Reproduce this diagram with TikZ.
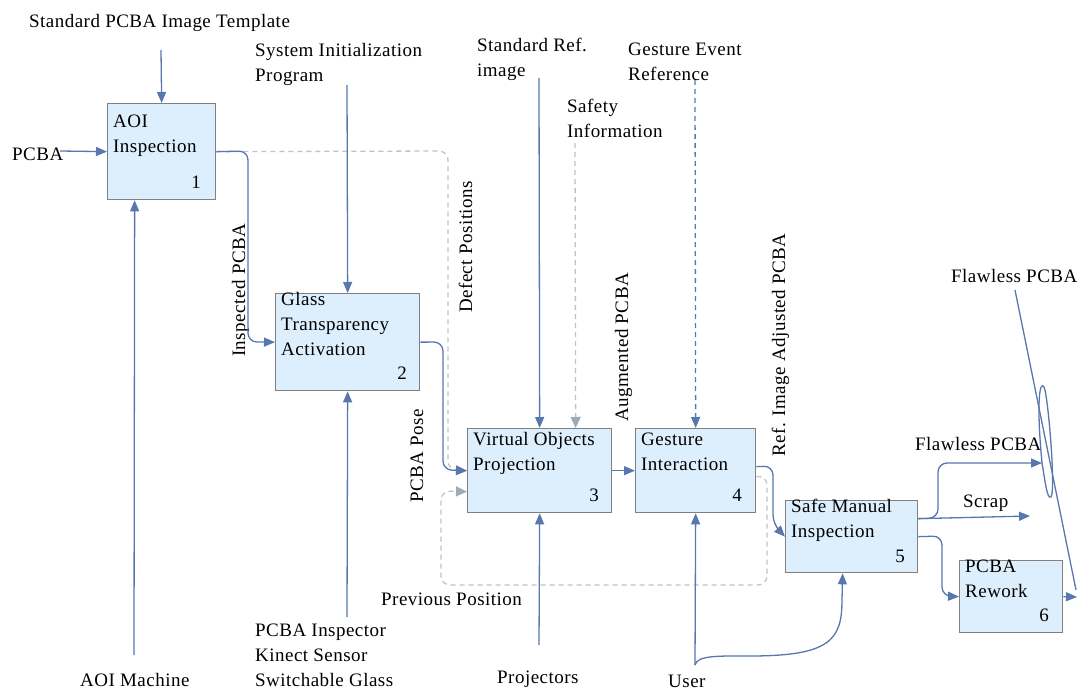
\documentclass[tikz,border=0pt]{standalone}
\usepackage{fontspec}
\setmainfont{Liberation Serif}[LetterSpace=2.5]
\usetikzlibrary{arrows.meta,calc}
\definecolor{flowblue}{HTML}{5877AD}
\definecolor{boxgray}{HTML}{808080}
\definecolor{boxfill}{HTML}{DDEEFD}
\definecolor{dashgray}{HTML}{BCC3CA}
\definecolor{dashtip}{HTML}{9FAAB4}
\newcommand\lblfont{\fontsize{19}{25}\selectfont}
\tikzset{
  box/.style={draw=boxgray, fill=boxfill, line width=1.3pt, inner sep=0pt, anchor=north west},
  txt/.style={font=\lblfont, inner sep=0pt, align=left, anchor=base west},
  num/.style={font=\lblfont, inner sep=0pt, anchor=base east},
  rot/.style={font=\lblfont, inner sep=0pt, rotate=90, anchor=base west},
  tip/.style={-{Triangle[length=11pt,width=9pt]}},
  flow/.style={draw=flowblue, line width=1.3pt, tip, rounded corners=9pt},
  dflow/.style={draw=dashgray, line width=1.3pt, dash pattern=on 5pt off 4pt, -{Triangle[length=11pt,width=10pt,color=dashtip]}, rounded corners=9pt},
  bdflow/.style={draw=flowblue, line width=1.3pt, dash pattern=on 5pt off 4pt, tip},
  plain/.style={draw=flowblue, line width=1.3pt}
}
\begin{document}
\begin{tikzpicture}[x=1pt,y=-1pt]
\useasboundingbox (0,0) rectangle (1078,690);
% boxes
\node[box, minimum width=108pt, minimum height=96pt] (b1) at (107,103) {};
\node[box, minimum width=144pt, minimum height=97pt] (b2) at (275,293) {};
\node[box, minimum width=144pt, minimum height=84pt] (b3) at (467,428) {};
\node[box, minimum width=120pt, minimum height=84pt] (b4) at (635,428) {};
\node[box, minimum width=132pt, minimum height=72pt] (b5) at (785,500) {};
\node[box, minimum width=103pt, minimum height=72pt] (b6) at (959,560) {};
% box texts (anchor = baseline of last line)
\node[txt] (b1t) at (113,153) {AOI\\Inspection};
\node[num] (b1n) at (201,188) {1};
\node[txt] (b2t) at (281,355) {Glass\\Transparency\\Activation};
\node[num] (b2n) at (407,379) {2};
\node[txt] (b3t) at (473,470) {Virtual Objects\\Projection};
\node[num] (b3n) at (599,501) {3};
\node[txt] (b4t) at (641,470) {Gesture\\Interaction};
\node[num] (b4n) at (742,501) {4};
\node[txt] (b5t) at (791,537) {Safe Manual\\Inspection};
\node[num] (b5n) at (905,562) {5};
\node[txt] (b6t) at (965,597) {PCBA\\Rework};
\node[num] (b6n) at (1049,621) {6};
% outer texts
\node[txt] (tpl) at (29,28) {Standard PCBA Image Template};
\node[txt] (sip) at (255,82) {System Initialization\\Program};
\node[txt] (pcba) at (12,160) {PCBA};
\node[txt] (sri) at (477,77) {Standard Ref.\\image};
\node[txt] (saf) at (567,138) {Safety\\Information};
\node[txt] (ger) at (628,81) {Gesture Event\\Reference};
\node[txt] (aoim) at (80,686) {AOI Machine};
\node[txt] (mech) at (255,686) {PCBA Inspector\\Kinect Sensor\\Switchable Glass};
\node[txt] (proj) at (497,683) {Projectors};
\node[txt] (user) at (668,687) {User};
\node[txt] (prev) at (381,605) {Previous Position};
\node[txt] (flw1) at (915,450) {Flawless PCBA};
\node[txt] (scr) at (963,507) {Scrap};
\node[txt] (flw2) at (951,282) {Flawless PCBA};
% rotated labels
\node[rot] (lInsp) at (245,357) {Inspected PCBA};
\node[rot] (lDef) at (472,313) {Defect Positions};
\node[rot] (lPose) at (423,503) {PCBA Pose};
\node[rot] (lAug) at (628,422) {Augmented PCBA};
\node[rot] (lRef) at (785,457) {Ref. Image Adjusted PCBA};
% free ends
\coordinate (cTpl) at (161,50);
\coordinate (cPcba) at (60,151);
\coordinate (cAoim) at (134,655);
\coordinate (cSip) at (347,85);
\coordinate (cMech) at (347,617);
\coordinate (cSri) at (539,78);
\coordinate (cSaf) at (575,143);
\coordinate (cGer) at (695,80);
\coordinate (cProj) at (539,645);
\coordinate (cUser) at (695,665);
\coordinate (cScr) at (1030,516);
\coordinate (cFlw) at (1042,463);
\coordinate (cOut) at (1077,597);
\coordinate (cDiagA) at (1015,290);
\coordinate (cDiagB) at (1076,590);
% connectors
\draw[dflow] (b1.east) -- (448,151) -- (448,470) -- (b3.west);
\draw[flow] (cTpl) -- (b1.north);
\draw[flow] (cPcba) -- (b1.west);
\draw[flow] (cAoim) -- ([xshift=-27pt]b1.south);
\draw[flow] (b1.east) -- (248,151) -- (248,342) -- (b2.west);
\draw[flow] (cSip) -- (b2.north);
\draw[flow] (cMech) -- (b2.south);
\draw[flow] (b2.east) -- (443,342) -- (443,470) -- (b3.west);
\draw[flow] (cSri) -- (b3.north);
\draw[dflow] (cSaf) -- ([xshift=36pt]b3.north);
\draw[bdflow] (cGer) -- (b4.north);
\draw[flow] (b3.east) -- (b4.west);
\draw[dflow] ([yshift=-6pt]b4.east) -- (767,476) -- (767,585) -- (441,585) -- (441,491) -- ([yshift=-21pt]b3.west);
\draw[flow] ([yshift=4pt]b4.east) -- (773,466) -- (773,524) -- (b5.west);
\draw[flow] (cProj) -- (b3.south);
\draw[flow] (cUser) -- (b4.south);
\draw[flow, rounded corners=0pt] (cUser) .. controls (697,655) and (720,656) .. (750,656) .. controls (830,656) and (842,640) .. (842,600) -- ([xshift=-9pt]b5.south);
\draw[flow] ([yshift=18pt]b5.east) -- (cScr);
\draw[flow] ([yshift=18pt]b5.east) -- (938,518) -- (938,463) -- (cFlw);
\draw[flow] (b5.east) -- (942,536) -- (942,596) -- (b6.west);
\draw[flow] (b6.east) -- (cOut);
\draw[plain] (cDiagA) -- (cDiagB);
\draw[plain] (cFlw) .. controls (1036,400) and (1040,380) .. (1044,387) .. controls (1048,395) and (1056,490) .. (1051,497) .. controls (1047,500) and (1045,480) .. (cFlw);
\end{tikzpicture}
\end{document}
